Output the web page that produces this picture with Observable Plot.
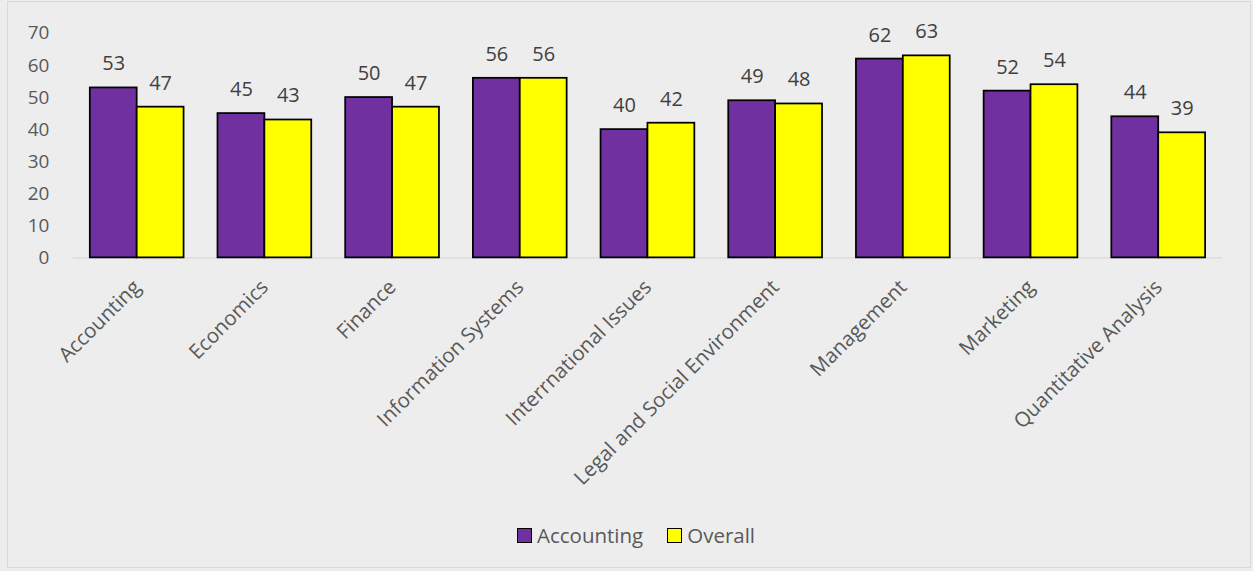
<!DOCTYPE html>
<html>
<head>
<meta charset="utf-8">
<script src="https://cdn.jsdelivr.net/npm/d3@7"></script>
<script src="https://cdn.jsdelivr.net/npm/@observablehq/plot@0.6"></script>
<style>
  html, body { margin: 0; padding: 0; background: #EDEDED; }
  #frame {
    position: absolute; left: 7px; top: 1px; width: 1244px; height: 567px;
    border: 1px solid #D9D9D9; box-sizing: border-box; background: #EDEDED;
  }
  #chart { position: absolute; left: -8px; top: -2px; }
  #legend {
    position: absolute; left: 0; width: 100%; top: 519px; box-sizing: border-box; padding-left: 14px;
    display: flex; justify-content: center; align-items: center;
    font-family: "Open Sans", sans-serif; font-size: 20.5px; color: #595959;
  }
  .item { display: flex; align-items: center; margin: 0 12px; }
  .sw { width: 13px; height: 13px; border: 1.5px solid #000; margin-right: 5px; }
</style>
</head>
<body>
<div id="frame">
  <div id="chart"></div>
  <div id="legend"></div>
</div>
<script>
const categories = ["Accounting", "Economics", "Finance", "Information Systems", "Interrnational Issues", "Legal and Social Environment", "Management", "Marketing", "Quantitative Analysis"];
const seriesNames = ["Accounting", "Overall"];
const accountingValues = [53, 45, 50, 56, 40, 49, 62, 52, 44];
const overallValues = [47, 43, 47, 56, 42, 48, 63, 54, 39];
const yTicks = [0, 10, 20, 30, 40, 50, 60, 70];
const colors = ["#7030A0", "#FFFF00"];

const data = [];
categories.forEach((c, i) => {
  data.push({category: c, series: seriesNames[0], value: accountingValues[i]});
  data.push({category: c, series: seriesNames[1], value: overallValues[i]});
});

const chart = Plot.plot({
  width: 1253,
  height: 505,
  marginTop: 33,
  marginLeft: 71,
  marginRight: 27,
  marginBottom: 247,
  style: {background: "transparent", fontFamily: "'Open Sans', sans-serif", fontSize: "19px", color: "#595959"},
  fx: {domain: categories, padding: 0, label: null},
  x: {domain: seriesNames, paddingInner: 0, paddingOuter: 0.35, axis: null},
  y: {domain: [0, 70], label: null},
  color: {domain: seriesNames, range: colors},
  marks: [
    Plot.axisY(yTicks, {tickSize: 0, tickPadding: 24, fontSize: 19, label: null}),
    Plot.axisFx({anchor: "bottom", tickRotate: -45, tickSize: 0, tickPadding: 26, fontSize: 20.5, label: null}),
    Plot.ruleY([0], {stroke: "#D9D9D9", strokeWidth: 1.5}),
    Plot.barY(data, {fx: "category", x: "series", y: "value", fill: "series", stroke: "#000", strokeWidth: 1.75}),
    Plot.text(data, {fx: "category", x: "series", y: "value", text: d => String(d.value), dy: -24, fontSize: 20, fill: "#404040"})
  ]
});
document.getElementById("chart").appendChild(chart);

const legend = document.getElementById("legend");
seriesNames.forEach((s, i) => {
  const item = document.createElement("div");
  item.className = "item";
  const sw = document.createElement("div");
  sw.className = "sw";
  sw.style.background = colors[i];
  const t = document.createElement("span");
  t.textContent = s;
  item.appendChild(sw);
  item.appendChild(t);
  legend.appendChild(item);
});
</script>
</body>
</html>
